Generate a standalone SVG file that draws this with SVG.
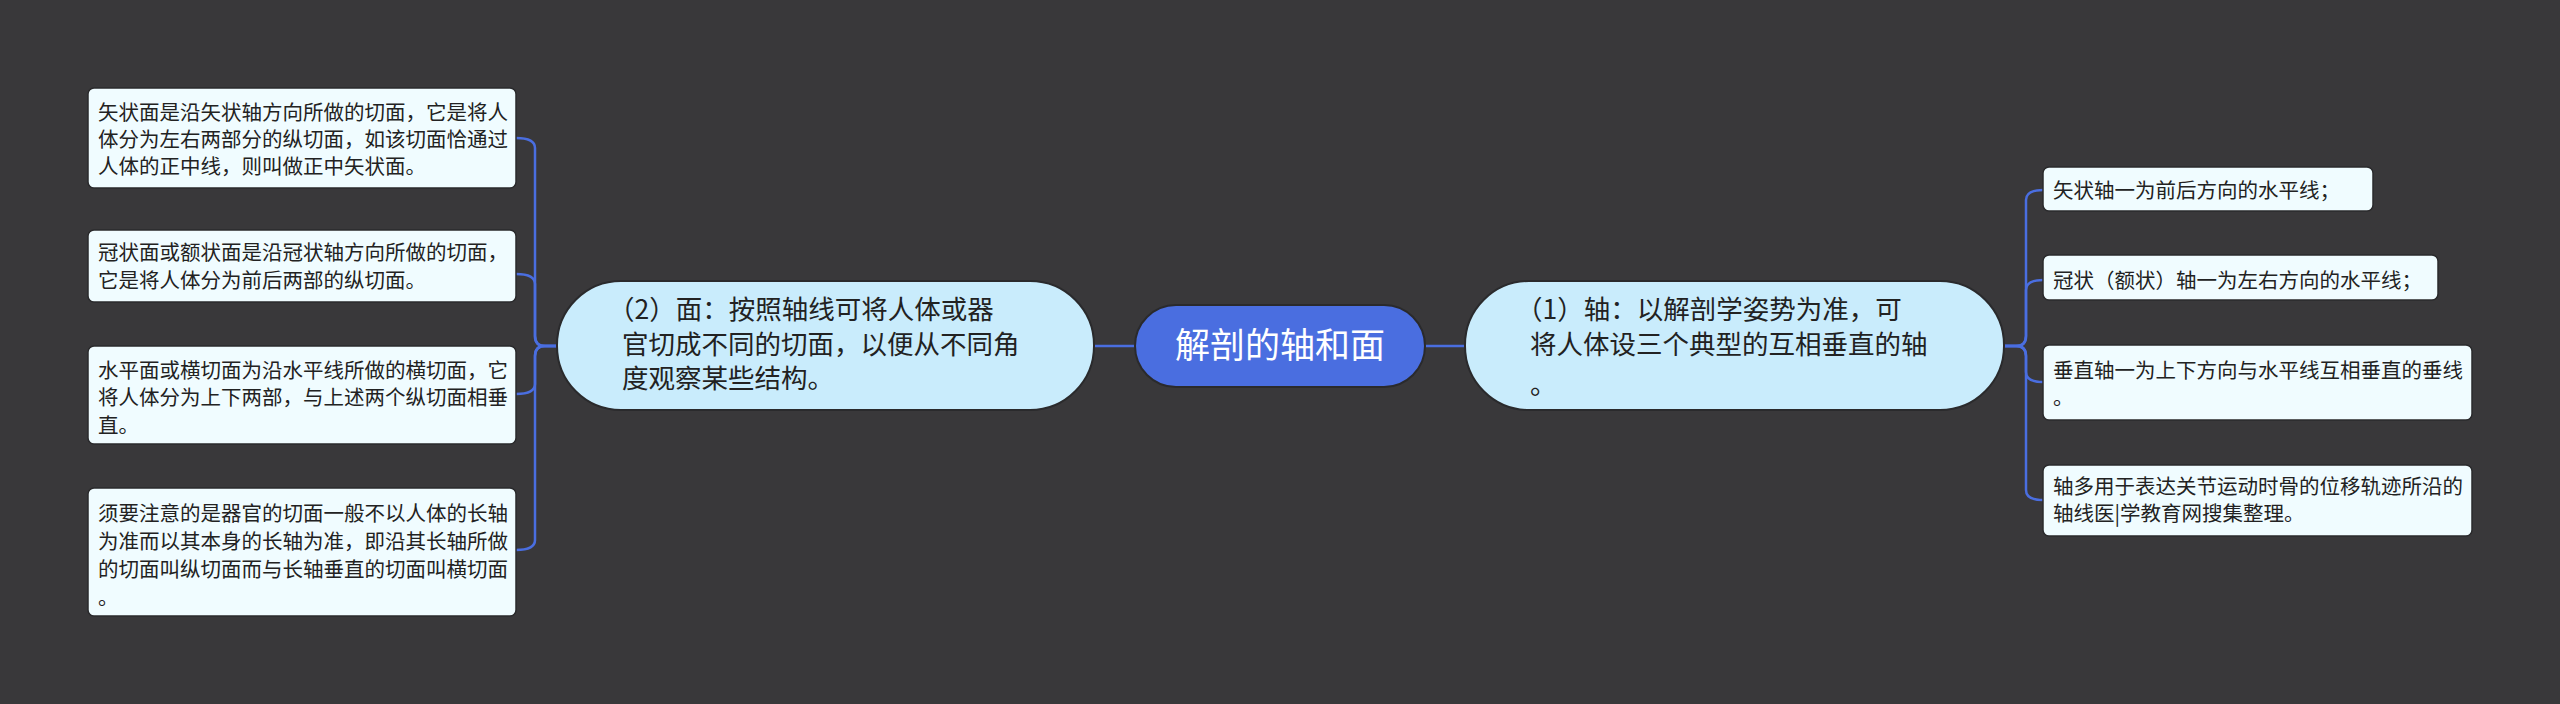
<svg xmlns="http://www.w3.org/2000/svg" width="2560" height="704" viewBox="0 0 2560 704">
<style>
text{font-family:"Noto Sans CJK SC","Noto Sans",sans-serif;}
.leaf rect{fill:#f0fcff;stroke:#2a2a2c;stroke-width:1.5}
.leaf text{font-size:20.5px;fill:#222}
.br rect{fill:#c9ecfc;stroke:#2a2a2c;stroke-width:2}
.br text{font-size:26.5px;fill:#222}
.ln{fill:none;stroke:#4a6ee0;stroke-width:2.5}
</style>
<rect width="2560" height="704" fill="#39383a"/>
<g id="connectors">
<path class="ln" d="M1094 346H1135M1425 346H1465"/>
<path class="ln" d="M557 346H545Q535 346 535 336V148Q535 138 516 138"/>
<path class="ln" d="M557 346H545Q535 346 535 336V284Q535 274 516 274"/>
<path class="ln" d="M557 346H545Q535 346 535 356V384Q535 394 516 394"/>
<path class="ln" d="M557 346H545Q535 346 535 356V540Q535 550 516 550"/>
<path class="ln" d="M2004 346H2016Q2026 346 2026 336V200Q2026 190 2043 190"/>
<path class="ln" d="M2004 346H2016Q2026 346 2026 336V290Q2026 280 2043 280"/>
<path class="ln" d="M2004 346H2016Q2026 346 2026 356V372Q2026 382 2043 382"/>
<path class="ln" d="M2004 346H2016Q2026 346 2026 356V490Q2026 500 2043 500"/>
</g>
<g id="center">
<rect x="1135" y="305" width="290" height="82" rx="41" fill="#4a6ee0" stroke="#2a2a2c" stroke-width="2"/>
<text x="1280" y="358" font-size="35" fill="#fff" text-anchor="middle">解剖的轴和面</text>
</g>
<g id="branch1" class="br">
<rect x="1465" y="281" width="539" height="129" rx="64"/>
<text x="1516" y="319">（1）轴：以解剖学姿势为准，可</text>
<text x="1530" y="354">将人体设三个典型的互相垂直的轴</text>
<text x="1530" y="394">。</text>
</g>
<g id="branch2" class="br">
<rect x="557" y="281" width="537" height="129" rx="64"/>
<text x="608" y="319">（2）面：按照轴线可将人体或器</text>
<text x="622" y="354">官切成不同的切面，以便从不同角</text>
<text x="622" y="388">度观察某些结构。</text>
</g>
<g id="l1" class="leaf">
<rect x="88" y="88" width="428" height="100" rx="6"/>
<text x="98" y="120">矢状面是沿矢状轴方向所做的切面，它是将人</text>
<text x="98" y="147">体分为左右两部分的纵切面，如该切面恰通过</text>
<text x="98" y="174">人体的正中线，则叫做正中矢状面。</text>
</g>
<g id="l2" class="leaf">
<rect x="88" y="230" width="428" height="72" rx="6"/>
<text x="98" y="260">冠状面或额状面是沿冠状轴方向所做的切面，</text>
<text x="98" y="288">它是将人体分为前后两部的纵切面。</text>
</g>
<g id="l3" class="leaf">
<rect x="88" y="346" width="428" height="98" rx="6"/>
<text x="98" y="378">水平面或横切面为沿水平线所做的横切面，它</text>
<text x="98" y="405">将人体分为上下两部，与上述两个纵切面相垂</text>
<text x="98" y="433">直。</text>
</g>
<g id="l4" class="leaf">
<rect x="88" y="488" width="428" height="128" rx="6"/>
<text x="98" y="521">须要注意的是器官的切面一般不以人体的长轴</text>
<text x="98" y="549">为准而以其本身的长轴为准，即沿其长轴所做</text>
<text x="98" y="577">的切面叫纵切面而与长轴垂直的切面叫横切面</text>
<text x="98" y="605">。</text>
</g>
<g id="r1" class="leaf">
<rect x="2043" y="167" width="330" height="44" rx="6"/>
<text x="2053" y="198">矢状轴一为前后方向的水平线；</text>
</g>
<g id="r2" class="leaf">
<rect x="2043" y="255" width="395" height="45" rx="6"/>
<text x="2053" y="288">冠状（额状）轴一为左右方向的水平线；</text>
</g>
<g id="r3" class="leaf">
<rect x="2043" y="345" width="429" height="75" rx="6"/>
<text x="2053" y="378">垂直轴一为上下方向与水平线互相垂直的垂线</text>
<text x="2053" y="405">。</text>
</g>
<g id="r4" class="leaf">
<rect x="2043" y="465" width="429" height="71" rx="6"/>
<text x="2053" y="494">轴多用于表达关节运动时骨的位移轨迹所沿的</text>
<text x="2053" y="521">轴线医|学教育网搜集整理。</text>
</g>
</svg>
